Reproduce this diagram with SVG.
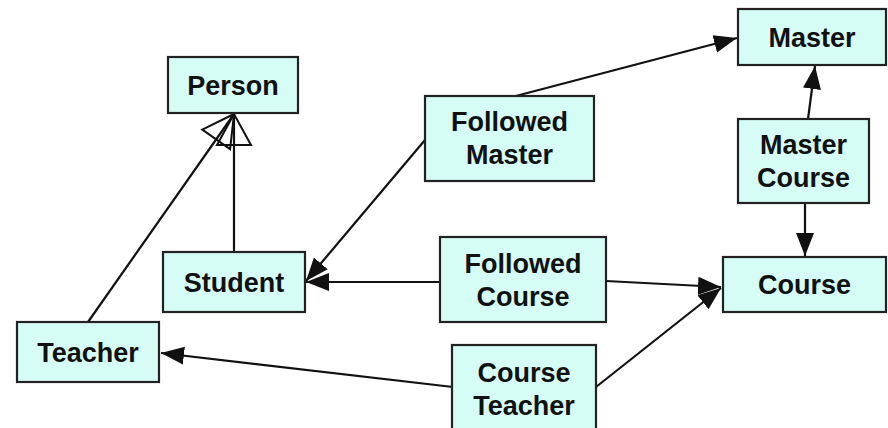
<svg xmlns="http://www.w3.org/2000/svg" width="888" height="428" viewBox="0 0 888 428">
<style>
.box{fill:#d6fcf6;stroke:#222;stroke-width:2.2}
.lbl{font-family:"Liberation Sans",Arial,sans-serif;font-weight:bold;font-size:27px;fill:#111;text-anchor:middle}
.edge{fill:none;stroke:#111;stroke-width:2.2}
</style>
<defs>
<marker id="arr" markerUnits="userSpaceOnUse" markerWidth="24" markerHeight="20" viewBox="0 0 24 20" refX="23" refY="10" orient="auto">
<path d="M0,1 L23,10 L0,19 Z" fill="#111"/>
</marker>
<marker id="gen" markerUnits="userSpaceOnUse" markerWidth="36" markerHeight="40" viewBox="0 0 36 40" refX="33" refY="20" orient="auto">
<path d="M33,20 L2,3 L2,37 Z" fill="none" stroke="#111" stroke-width="2"/>
</marker>
</defs>
<rect width="888" height="428" fill="#fff"/>
<g id="connectors">
<line class="edge" x1="234" y1="252" x2="234" y2="114" marker-end="url(#gen)"/>
<line class="edge" x1="88" y1="322" x2="234" y2="114" marker-end="url(#gen)"/>
<line class="edge" x1="512" y1="97" x2="737" y2="38" marker-end="url(#arr)"/>
<line class="edge" x1="425" y1="140" x2="306" y2="281" marker-end="url(#arr)"/>
<line class="edge" x1="440" y1="282" x2="306" y2="282" marker-end="url(#arr)"/>
<line class="edge" x1="606" y1="281" x2="721" y2="287" marker-end="url(#arr)"/>
<line class="edge" x1="596" y1="387" x2="721" y2="288" marker-end="url(#arr)"/>
<line class="edge" x1="453" y1="387" x2="161" y2="353" marker-end="url(#arr)"/>
<line class="edge" x1="808" y1="119" x2="815" y2="66" marker-end="url(#arr)"/>
<line class="edge" x1="805" y1="203" x2="805" y2="256" marker-end="url(#arr)"/>
</g>
<g id="person"><rect class="box" x="168" y="57" width="130" height="56"/><text class="lbl" x="233" y="95">Person</text></g>
<g id="master"><rect class="box" x="738" y="9" width="148" height="56"/><text class="lbl" x="812" y="47">Master</text></g>
<g id="followed-master"><rect class="box" x="425" y="96" width="169" height="85"/><text class="lbl" x="509.5" y="131">Followed</text><text class="lbl" x="509.5" y="164">Master</text></g>
<g id="master-course"><rect class="box" x="738" y="119" width="131" height="84"/><text class="lbl" x="803.5" y="154">Master</text><text class="lbl" x="803.5" y="187">Course</text></g>
<g id="student"><rect class="box" x="163" y="252" width="142" height="60"/><text class="lbl" x="234" y="292">Student</text></g>
<g id="followed-course"><rect class="box" x="440" y="237" width="166" height="85"/><text class="lbl" x="523" y="273">Followed</text><text class="lbl" x="523" y="306">Course</text></g>
<g id="course"><rect class="box" x="723" y="257" width="163" height="55"/><text class="lbl" x="804.5" y="294">Course</text></g>
<g id="teacher"><rect class="box" x="17" y="322" width="142" height="60"/><text class="lbl" x="88" y="362">Teacher</text></g>
<g id="course-teacher"><rect class="box" x="452" y="345" width="144" height="90"/><text class="lbl" x="524" y="382">Course</text><text class="lbl" x="524" y="415">Teacher</text></g>
</svg>
